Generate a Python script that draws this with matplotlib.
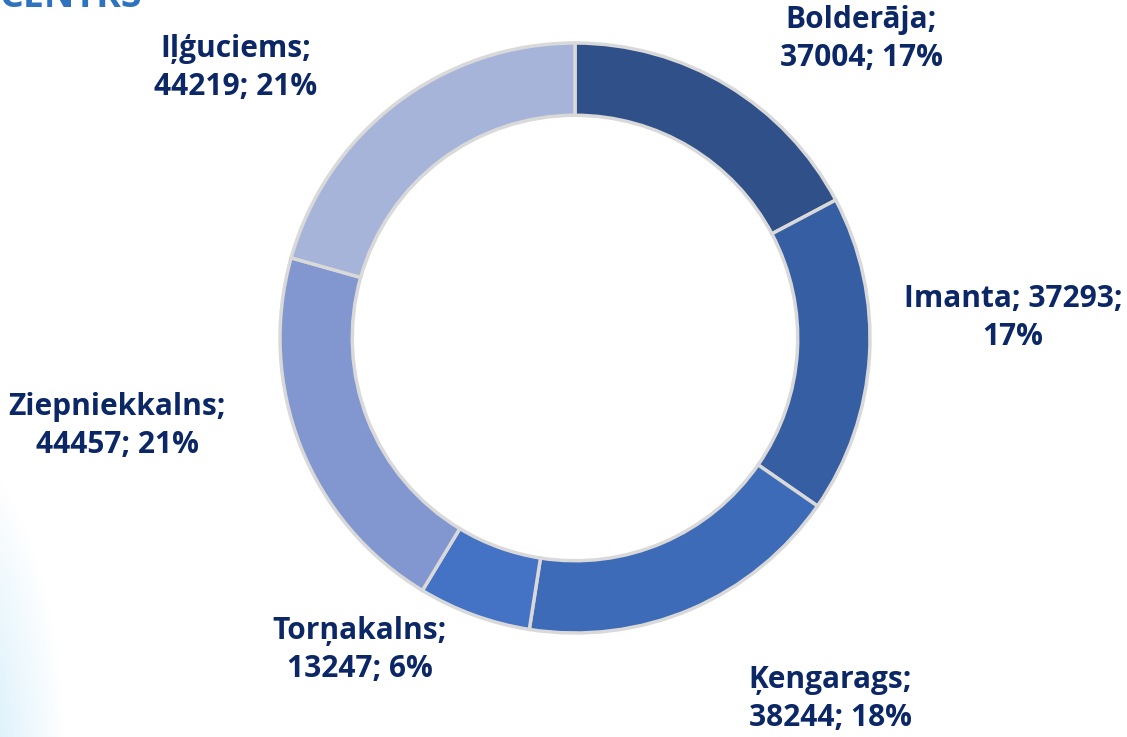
import matplotlib
matplotlib.use("Agg")
import matplotlib.pyplot as plt
import numpy as np

# Data
districts = ['Bolderāja', 'Imanta', 'Ķengarags', 'Torņakalns', 'Ziepniekkalns', 'Iļģuciems']
residents = [37004, 37293, 38244, 13247, 44457, 44219]
shares = [17, 17, 18, 6, 21, 21]
colors = ['#2F5089', '#365EA2', '#3D6BB7', '#4472C4', '#8297D0', '#A7B4DA']

# label layout (pixel coords, y from top) and line breaks
label_pos = [(861, 39), (1013, 318), (830, 699), (360, 650), (117, 426), (236, 68)]
label_text = [
    f"{districts[0]};\n{residents[0]}; {shares[0]}%",
    f"{districts[1]}; {residents[1]};\n{shares[1]}%",
    f"{districts[2]};\n{residents[2]}; {shares[2]}%",
    f"{districts[3]};\n{residents[3]}; {shares[3]}%",
    f"{districts[4]};\n{residents[4]}; {shares[4]}%",
    f"{districts[5]};\n{residents[5]}; {shares[5]}%",
]

W, H = 1127, 737
fig = plt.figure(figsize=(W / 100, H / 100), dpi=100)

# light blue glow at the left edge (slide background)
bg = fig.add_axes([0, 0, 1, 1])
yy, xx = np.mgrid[0:H, 0:W]
d = np.sqrt(((xx + 60) / 110.0) ** 2 + ((yy - 780) / 300.0) ** 2)
alpha = np.clip(1.15 - d, 0, 1) * 0.55
img = np.zeros((H, W, 4))
img[..., 0] = 0.62
img[..., 1] = 0.85
img[..., 2] = 0.96
img[..., 3] = alpha
bg.imshow(img, extent=(0, W, H, 0), aspect='auto')
bg.set_xlim(0, W)
bg.set_ylim(H, 0)
bg.axis('off')

ax = fig.add_axes([0, 0, 1, 1])
ax.patch.set_alpha(0)
cx, cy, r = 575, H - 338, 295
ax.pie(residents, colors=colors, startangle=90, counterclock=False,
       center=(cx, cy), radius=r,
       wedgeprops=dict(width=r * 0.245, edgecolor='#D9D9D9', linewidth=2.5))
ax.set_xlim(0, W)
ax.set_ylim(0, H)
ax.set_aspect('equal')
ax.axis('off')

for (px, py), t in zip(label_pos, label_text):
    ax.text(px, H - py, t, ha='center', va='center', fontsize=21.5,
            fontweight='bold', family='Open Sans', color='#0C2766', linespacing=1.38)

# cut-off slide header
fig.text(0.0, 1.004, "CENTRS", ha='left', va='center', fontsize=27,
         fontweight='bold', family='Open Sans', color='#2F72C0')

fig.savefig("out.png", dpi=100)
